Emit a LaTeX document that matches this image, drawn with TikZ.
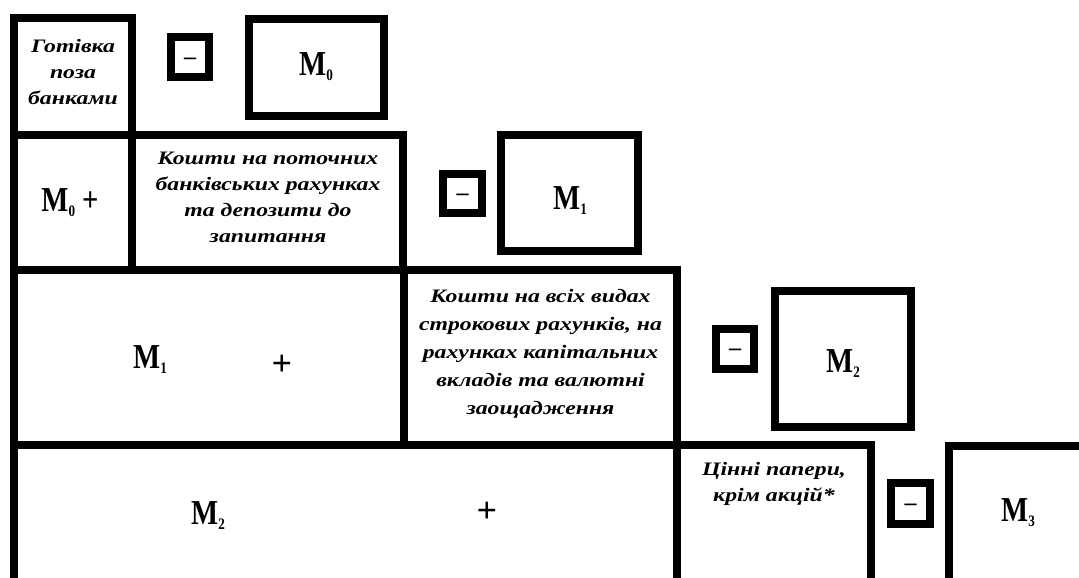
\documentclass[tikz,border=0pt]{standalone}
\usepackage{fontspec}
\setmainfont{Liberation Serif}
\newfontfamily\txtfont[FakeStretch=1.25]{Liberation Serif}
\newfontfamily\mfont[FakeStretch=0.82]{Liberation Serif}
\newcommand{\Mx}[1]{M\raisebox{-5pt}{\fontsize{16}{16}\selectfont #1}}
\tikzset{
  cell/.style={draw, line width=8pt, rectangle, inner sep=0pt},
  minusbox/.style={draw, line width=8pt, rectangle, inner sep=0pt,
    text height=0pt, text depth=0pt,
    font=\bfseries\fontsize{24}{24}\selectfont},
  txt/.style={font=\txtfont\bfseries\itshape\fontsize{19}{26}\selectfont, align=center, inner sep=0pt},
  mlab/.style={font=\mfont\bfseries\fontsize{35}{35}\selectfont, inner sep=0pt},
  plus/.style={font=\bfseries\fontsize{36}{36}\selectfont, inner sep=0pt}
}
\newcommand{\dsh}{\raisebox{-6.5pt}{–}}
\begin{document}
\begin{tikzpicture}[x=1pt,y=-1pt]
\clip (0,0) rectangle (1079,578);
\fill[white] (0,0) rectangle (1079,578);
% row 1
\node[cell, minimum width=118pt, minimum height=117pt] (c1) at (73,76.5) {};
\node[txt] (t1) at (73,72) {Готівка\\поза\\банками};
\node[minusbox, minimum width=38pt, minimum height=40pt] (m1) at (190,57.5) {\dsh};
\node[cell, minimum width=135pt, minimum height=97pt] (M0box) at (316.5,67.5) {};
\node[mlab, anchor=base] (M0) at (316,76) {\Mx{0}};
% row 2
\node[cell, minimum width=118pt, minimum height=135pt] (c2a) at (73,202.5) {};
\node[cell, minimum width=271pt, minimum height=135pt] (c2b) at (267.5,202.5) {};
\node[mlab, anchor=base] (M0p) at (70,211) {\Mx{0} +};
\node[txt] (t2) at (268,197) {Кошти на поточних\\банківських рахунках\\та депозити до\\запитання};
\node[minusbox, minimum width=39pt, minimum height=39pt] (m2) at (462.5,193.5) {\dsh};
\node[cell, minimum width=137pt, minimum height=116pt] (M1box) at (569.5,193) {};
\node[mlab, anchor=base] (M1) at (570,209) {\Mx{1}};
% row 3
\node[cell, minimum width=390pt, minimum height=175pt] (c3a) at (209,357.5) {};
\node[cell, minimum width=273pt, minimum height=175pt] (c3b) at (540.5,357.5) {};
\node[mlab, anchor=base] (M1p) at (150,368) {\Mx{1}};
\node[plus] (p3) at (282,365) {+};
\node[txt, font=\txtfont\bfseries\itshape\fontsize{19}{28}\selectfont] (t3) at (540.5,354) {Кошти на всіх видах\\строкових рахунків, на\\рахунках капітальних\\вкладів та валютні\\заощадження};
\node[minusbox, minimum width=38pt, minimum height=40pt] (m3) at (735,349) {\dsh};
\node[cell, minimum width=136pt, minimum height=136pt] (M2box) at (843,359) {};
\node[mlab, anchor=base] (M2) at (843,372) {\Mx{2}};
% row 4
\node[cell, minimum width=663pt, minimum height=145pt] (c4a) at (345.5,517.5) {};
\node[cell, minimum width=194pt, minimum height=145pt] (c4b) at (774,517.5) {};
\node[mlab, anchor=base] (M2p) at (208,524) {\Mx{2}};
\node[plus] (p4) at (487,512) {+};
\node[txt] (t4) at (774,484) {Цінні папери,\\крім акцій*};
\node[minusbox, minimum width=39pt, minimum height=41pt] (m4) at (910.5,503.5) {\dsh};
\node[cell, minimum width=146pt, minimum height=144pt] (M3box) at (1022,518) {};
\node[mlab, anchor=base] (M3) at (1018,521) {\Mx{3}};
\end{tikzpicture}
\end{document}
